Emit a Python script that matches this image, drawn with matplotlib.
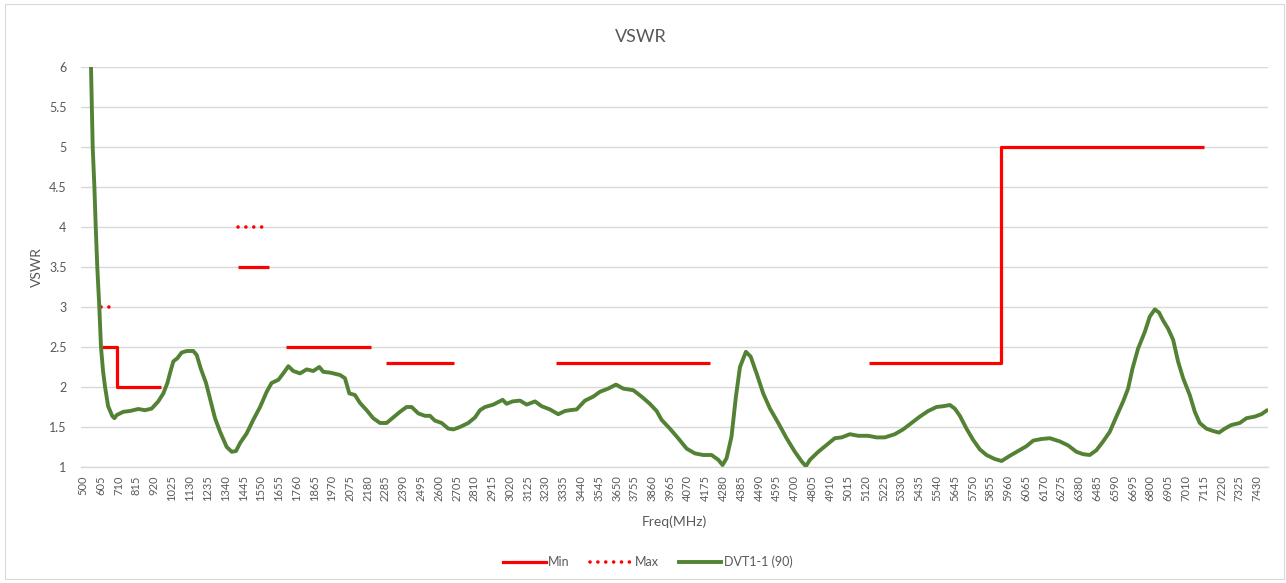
import numpy as np
import matplotlib
matplotlib.use('Agg')
import matplotlib.pyplot as plt
from matplotlib.lines import Line2D
from matplotlib.patches import Rectangle

plt.rcParams['font.family'] = ['Lato', 'DejaVu Sans']

# limit lines (MHz ranges and VSWR)
min_start = [610, 698, 1413, 1700, 2290, 3290, 5140, 5920]
min_end = [698, 958, 1600, 2200, 2690, 4200, 5920, 7120]
min_val = [2.5, 2.0, 3.5, 2.5, 2.3, 2.3, 2.3, 5.0]

max_start = [605, 1413]
max_end = [665, 1570]
max_val = [3.0, 4.0]

# measured curve DVT1-1 (90)
freq = [500, 547, 557, 567, 575, 584, 596, 606, 618, 630, 648, 660, 672, 685, 699,
        738, 777, 826, 866, 905, 944, 974, 998, 1018, 1033, 1057, 1082, 1112, 1151,
        1171, 1195, 1226, 1254, 1279, 1309, 1348, 1378, 1403, 1427, 1466, 1505, 1545,
        1584, 1613, 1653, 1682, 1712, 1741, 1781, 1820, 1859, 1895, 1918, 1958, 2017,
        2046, 2072, 2105, 2135, 2174, 2213, 2253, 2292, 2331, 2371, 2410, 2440, 2479,
        2518, 2548, 2577, 2617, 2656, 2686, 2725, 2774, 2814, 2843, 2873, 2922, 2977,
        3000, 3036, 3079, 3119, 3168, 3207, 3256, 3305, 3345, 3374, 3414, 3463, 3512,
        3551, 3600, 3646, 3689, 3748, 3797, 3846, 3886, 3915, 3964, 4013, 4063, 4112,
        4161, 4210, 4250, 4275, 4299, 4328, 4354, 4378, 4413, 4441, 4476, 4515, 4555,
        4604, 4653, 4702, 4742, 4767, 4791, 4840, 4889, 4938, 4978, 5027, 5076, 5135,
        5184, 5233, 5292, 5341, 5391, 5440, 5489, 5538, 5578, 5617, 5646, 5676, 5715,
        5754, 5794, 5833, 5882, 5922, 5971, 6020, 6069, 6109, 6158, 6207, 6266, 6315,
        6364, 6404, 6443, 6482, 6522, 6561, 6600, 6640, 6669, 6695, 6728, 6768, 6797,
        6827, 6852, 6876, 6905, 6935, 6964, 6994, 7033, 7063, 7092, 7131, 7171, 7206,
        7240, 7279, 7328, 7368, 7417, 7456, 7490]
vswr = [8.0, 6.0, 5.0, 4.5, 4.0, 3.5, 3.0, 2.5, 2.2, 2.0, 1.76, 1.70, 1.64, 1.61, 1.65,
        1.69, 1.70, 1.725, 1.71, 1.73, 1.82, 1.92, 2.05, 2.21, 2.32, 2.36, 2.43, 2.45, 2.45,
        2.40, 2.23, 2.05, 1.82, 1.61, 1.44, 1.25, 1.19, 1.20, 1.30, 1.42, 1.59, 1.75,
        1.94, 2.05, 2.09, 2.17, 2.26, 2.20, 2.17, 2.22, 2.20, 2.25, 2.19, 2.18, 2.15,
        2.11, 1.92, 1.90, 1.80, 1.71, 1.61, 1.55, 1.55, 1.62, 1.69, 1.75, 1.75, 1.67,
        1.64, 1.64, 1.58, 1.55, 1.48, 1.47, 1.50, 1.55, 1.62, 1.71, 1.75, 1.78, 1.84,
        1.79, 1.82, 1.83, 1.78, 1.82, 1.76, 1.72, 1.66, 1.70, 1.71, 1.72, 1.83, 1.88,
        1.94, 1.98, 2.03, 1.98, 1.96, 1.88, 1.79, 1.70, 1.59, 1.48, 1.36, 1.23, 1.17,
        1.15, 1.15, 1.09, 1.025, 1.11, 1.38, 1.88, 2.25, 2.44, 2.38, 2.17, 1.92, 1.73,
        1.55, 1.36, 1.19, 1.07, 1.01, 1.09, 1.19, 1.275, 1.36, 1.37, 1.41, 1.39, 1.39,
        1.37, 1.37, 1.41, 1.47, 1.55, 1.63, 1.70, 1.75, 1.76, 1.775, 1.73, 1.64, 1.48,
        1.34, 1.22, 1.15, 1.10, 1.075, 1.14, 1.20, 1.26, 1.33, 1.35, 1.36, 1.32, 1.27,
        1.19, 1.16, 1.15, 1.21, 1.32, 1.44, 1.63, 1.82, 1.98, 2.23, 2.48, 2.69, 2.88,
        2.97, 2.93, 2.83, 2.73, 2.59, 2.32, 2.11, 1.90, 1.69, 1.55, 1.48, 1.45, 1.43,
        1.48, 1.525, 1.55, 1.61, 1.63, 1.66, 1.71]

xticks = list(range(500, 7431, 105))

GREY = '#595959'
GRID = '#D9D9D9'
RED = '#FF0000'
GREEN = '#548235'


def steps(starts, ends, vals):
    xs, ys = [], []
    prev = None
    for s, e, v in zip(starts, ends, vals):
        if prev is not None and s != prev:
            xs.append(np.nan)
            ys.append(np.nan)
        xs += [s, e]
        ys += [v, v]
        prev = e
    return xs, ys


fig = plt.figure(figsize=(12.86, 5.83), dpi=100)
fig.patches.append(Rectangle((5 / 1286, 4 / 583), 1279 / 1286, 575 / 583,
                             transform=fig.transFigure, fill=False,
                             edgecolor=GRID, lw=0.8))
ax = fig.add_axes([80.5 / 1286, 1 - 467 / 583, (1268 - 80.5) / 1286, 400 / 583])

mx, my = steps(min_start, min_end, min_val)
ax.plot(mx, my, color=RED, lw=2.3, solid_capstyle='butt', zorder=3)
xx, xy = steps(max_start, max_end, max_val)
ax.plot(xx, xy, color=RED, lw=2.6, linestyle=(0, (0.01, 2.17)),
        dash_capstyle='round', zorder=3)
ax.plot(freq, vswr, color=GREEN, lw=2.8, solid_capstyle='round', zorder=4)

ax.set_xlim(485, 7495)
ax.set_ylim(1, 6)
ax.set_yticks([1, 1.5, 2, 2.5, 3, 3.5, 4, 4.5, 5, 5.5, 6])
ax.set_yticklabels(['1', '1.5', '2', '2.5', '3', '3.5', '4', '4.5', '5', '5.5', '6'])
ax.set_xticks(xticks)
ax.set_xticklabels([str(t) for t in xticks], rotation=90)
ax.tick_params(axis='x', length=0, pad=6, labelsize=8, colors=GREY)
ax.tick_params(axis='y', length=0, pad=10, labelsize=9, colors=GREY)
ax.grid(axis='y', color=GRID, lw=1.0)
ax.set_axisbelow(True)
for s in ['top', 'right', 'left']:
    ax.spines[s].set_visible(False)
ax.spines['bottom'].set_color(GRID)
ax.spines['bottom'].set_linewidth(1.0)

fig.text(641 / 1286, 1 - 37 / 583, 'VSWR', ha='center', va='center',
         fontsize=13, color=GREY)
fig.text(37 / 1286, 1 - 267 / 583, 'VSWR', ha='center', va='center',
         rotation=90, fontsize=10, color=GREY)
fig.text(674 / 1286, 1 - 522 / 583, 'Freq(MHz)', ha='center', va='center',
         fontsize=10, color=GREY)

handles = [
    Line2D([], [], color=RED, lw=2.3),
    Line2D([], [], color=RED, lw=2.6, linestyle=(0, (0.01, 2.17)), dash_capstyle='round'),
    Line2D([], [], color=GREEN, lw=2.8),
]
leg = fig.legend(handles, ['Min', 'Max', 'DVT1-1 (90)'], loc='center',
                 bbox_to_anchor=(648 / 1286, 1 - 562 / 583), ncol=3, frameon=False,
                 fontsize=9, handlelength=3.4, handletextpad=0.2, columnspacing=1.6)
for t in leg.get_texts():
    t.set_color(GREY)

fig.savefig('out.png', dpi=100)
